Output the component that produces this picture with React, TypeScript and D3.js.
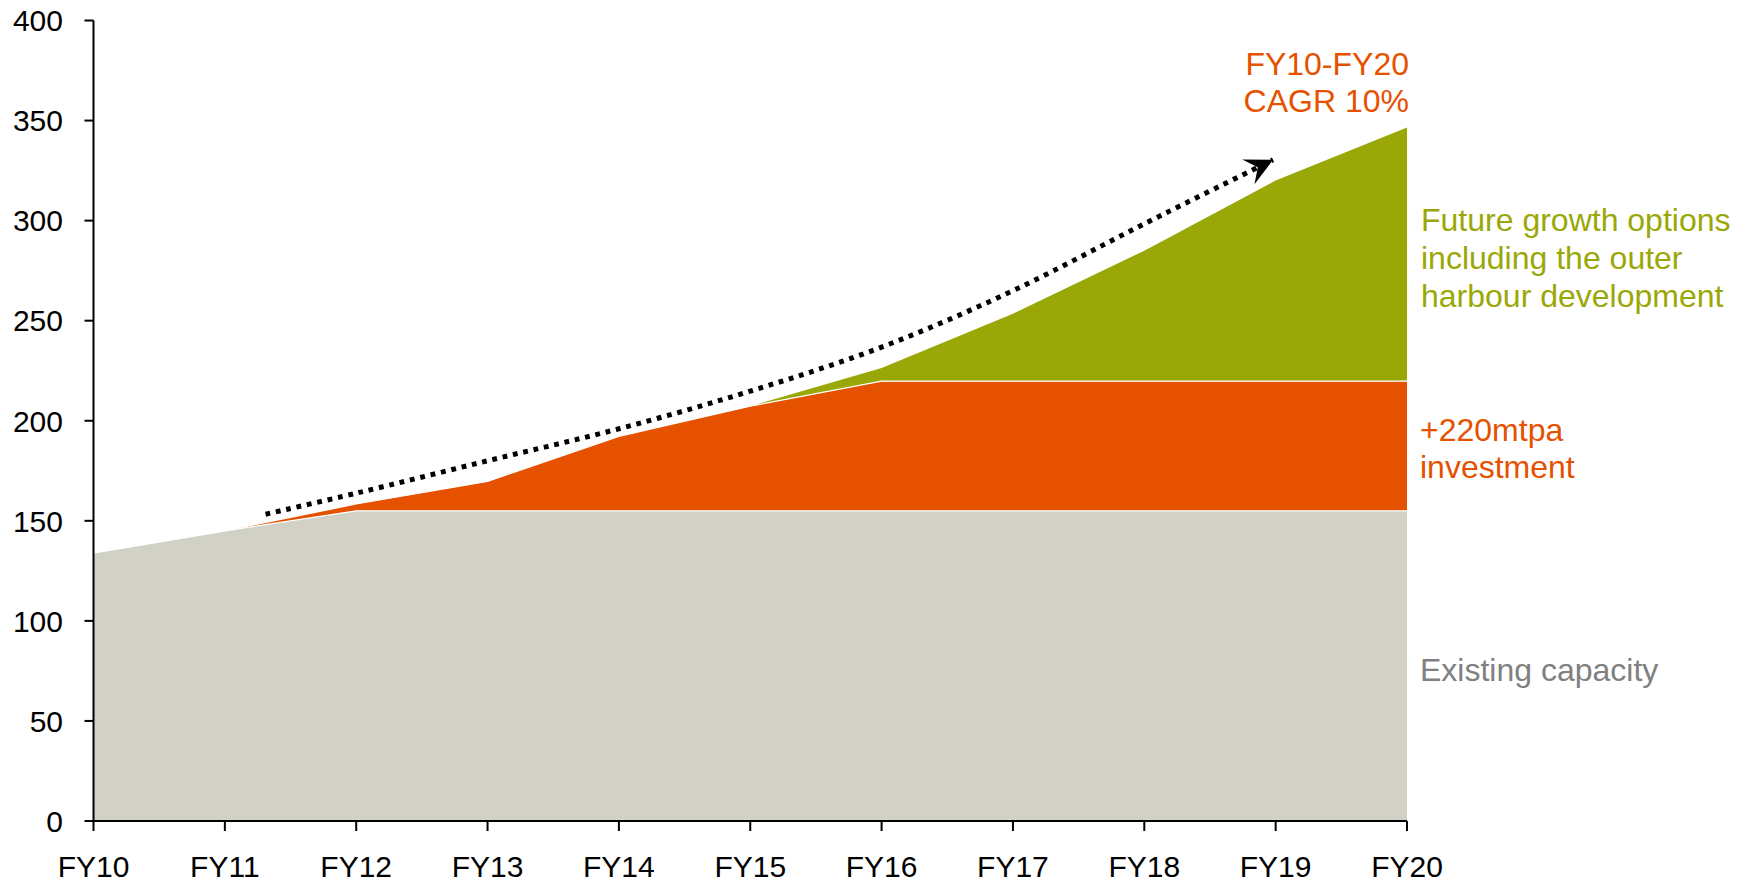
import React from "react";
import * as d3 from "d3";

const categories = ["FY10", "FY11", "FY12", "FY13", "FY14", "FY15", "FY16", "FY17", "FY18", "FY19", "FY20"];
const existingCapacity = [134, 145, 155, 155, 155, 155, 155, 155, 155, 155, 155];
const investment220 = [0, 0, 3.4, 14.7, 37.2, 52.3, 64.8, 64.8, 64.8, 64.8, 64.8];
const futureGrowth = [0, 0, 0, 0, 0, 0, 6.5, 33.7, 65.2, 100.2, 126.7];
const yTicks = [0, 50, 100, 150, 200, 250, 300, 350, 400];

// CAGR trend arrow (x = fractional category index, y = value)
const arrowX = [1.31, 2, 3, 4, 5, 6, 7, 8, 8.98];
const arrowY = [153.3, 163.8, 180, 196, 214.8, 236.8, 265, 298.4, 330.4];

const seriesKeys = ["existing", "investment", "future"];
const seriesColors: Record<string, string> = {
  existing: "#D1D1C5",
  investment: "#E65100",
  future: "#99A806",
};

const W = 1748;
const H = 885;
const left = 93.5;
const right = 1407;
const top = 20.5;
const bottom = 821;
const FONT = "'Liberation Sans', Arial, Helvetica, sans-serif";

export default function App() {
  const x = d3.scaleLinear().domain([0, categories.length - 1]).range([left, right]);
  const y = d3.scaleLinear().domain([0, 400]).range([bottom, top]);

  const rows = categories.map((c, i) => ({
    i,
    existing: existingCapacity[i],
    investment: investment220[i],
    future: futureGrowth[i],
  }));
  const stacked = d3.stack<any>().keys(seriesKeys)(rows);

  const area = d3
    .area<any>()
    .x((d) => x(d.data.i))
    .y0((d) => y(d[0]))
    .y1((d) => y(d[1]));
  const topLine = d3
    .line<any>()
    .x((d) => x(d.data.i))
    .y((d) => y(d[1]));

  const arrowPts = arrowX.map((v, i) => [v, arrowY[i]] as [number, number]);
  const arrowLine = d3
    .line<[number, number]>()
    .x((d) => x(d[0]))
    .y((d) => y(d[1]))
    .curve(d3.curveCatmullRom.alpha(0.5));

  return (
    <svg
      width={W}
      height={H}
      style={{ position: "absolute", left: 0, top: 0, background: "#fff" }}
      fontFamily={FONT}
    >
      <defs>
        <marker
          id="arrowHead"
          markerUnits="userSpaceOnUse"
          viewBox="-30 -16 32 32"
          refX={0}
          refY={0}
          markerWidth={32}
          markerHeight={32}
          orient="auto"
        >
          <path d="M0,0 L-27.5,-13.8 L-17,0 L-27.5,13.8 Z" fill="#000" />
        </marker>
      </defs>

      {stacked.map((s) => (
        <path key={s.key} d={area(s) || ""} fill={seriesColors[s.key]} />
      ))}
      {stacked.slice(0, 2).map((s) => (
        <path key={"l" + s.key} d={topLine(s) || ""} fill="none" stroke="#fff" strokeWidth={1.2} />
      ))}

      <path
        d={arrowLine(arrowPts) || ""}
        fill="none"
        stroke="#000"
        strokeWidth={5}
        strokeDasharray="4.8 5.8"
        markerEnd="url(#arrowHead)"
      />

      {/* Y axis */}
      <line x1={left} x2={left} y1={y(400)} y2={bottom} stroke="#000" strokeWidth={2} />
      {yTicks.map((t) => (
        <g key={t}>
          <line x1={left - 9} x2={left} y1={y(t)} y2={y(t)} stroke="#000" strokeWidth={2} />
          <text x={63} y={y(t)} dy="0.36em" textAnchor="end" fontSize={30} fill="#000">
            {t}
          </text>
        </g>
      ))}

      {/* X axis */}
      <line x1={left} x2={right} y1={bottom} y2={bottom} stroke="#000" strokeWidth={2} />
      {categories.map((c, i) => (
        <g key={c}>
          <line x1={x(i)} x2={x(i)} y1={bottom} y2={bottom + 10} stroke="#000" strokeWidth={2} />
          <text x={x(i)} y={877} textAnchor="middle" fontSize={30} fill="#000">
            {c}
          </text>
        </g>
      ))}

      {/* Annotations */}
      <text x={1409} y={75} textAnchor="end" fontSize={32} fill="#E65100">
        FY10-FY20
      </text>
      <text x={1409} y={112} textAnchor="end" fontSize={32} fill="#E65100">
        CAGR 10%
      </text>

      <text x={1421} y={230.5} fontSize={32} fill="#99A806">
        Future growth options
      </text>
      <text x={1421} y={268.5} fontSize={32} fill="#99A806">
        including the outer
      </text>
      <text x={1421} y={306.5} fontSize={32} fill="#99A806">
        harbour development
      </text>

      <text x={1420} y={441} fontSize={32} fill="#E65100">
        +220mtpa
      </text>
      <text x={1420} y={478} fontSize={32} fill="#E65100">
        investment
      </text>

      <text x={1420} y={681} fontSize={32} fill="#808080">
        Existing capacity
      </text>
    </svg>
  );
}
